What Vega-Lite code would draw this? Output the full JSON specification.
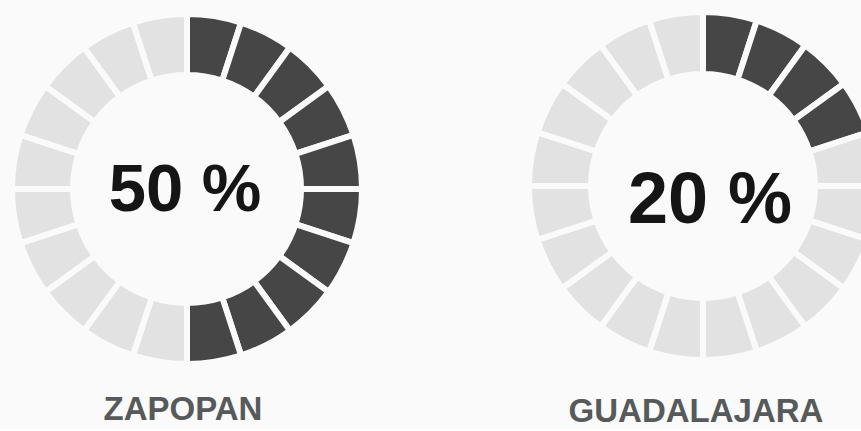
{
  "$schema": "https://vega.github.io/schema/vega-lite/v6.json",
  "background": "#fafafa",
  "padding": 0,
  "autosize": {"type": "pad"},
  "config": {"view": {"stroke": null}, "concat": {"spacing": 143}},
  "datasets": {
    "zap": [
      {"segmento": 1, "valor": 1, "estado": "lleno"},
      {"segmento": 2, "valor": 1, "estado": "lleno"},
      {"segmento": 3, "valor": 1, "estado": "lleno"},
      {"segmento": 4, "valor": 1, "estado": "lleno"},
      {"segmento": 5, "valor": 1, "estado": "lleno"},
      {"segmento": 6, "valor": 1, "estado": "lleno"},
      {"segmento": 7, "valor": 1, "estado": "lleno"},
      {"segmento": 8, "valor": 1, "estado": "lleno"},
      {"segmento": 9, "valor": 1, "estado": "lleno"},
      {"segmento": 10, "valor": 1, "estado": "lleno"},
      {"segmento": 11, "valor": 1, "estado": "vacio"},
      {"segmento": 12, "valor": 1, "estado": "vacio"},
      {"segmento": 13, "valor": 1, "estado": "vacio"},
      {"segmento": 14, "valor": 1, "estado": "vacio"},
      {"segmento": 15, "valor": 1, "estado": "vacio"},
      {"segmento": 16, "valor": 1, "estado": "vacio"},
      {"segmento": 17, "valor": 1, "estado": "vacio"},
      {"segmento": 18, "valor": 1, "estado": "vacio"},
      {"segmento": 19, "valor": 1, "estado": "vacio"},
      {"segmento": 20, "valor": 1, "estado": "vacio"}
    ],
    "gdl": [
      {"segmento": 1, "valor": 1, "estado": "lleno"},
      {"segmento": 2, "valor": 1, "estado": "lleno"},
      {"segmento": 3, "valor": 1, "estado": "lleno"},
      {"segmento": 4, "valor": 1, "estado": "lleno"},
      {"segmento": 5, "valor": 1, "estado": "vacio"},
      {"segmento": 6, "valor": 1, "estado": "vacio"},
      {"segmento": 7, "valor": 1, "estado": "vacio"},
      {"segmento": 8, "valor": 1, "estado": "vacio"},
      {"segmento": 9, "valor": 1, "estado": "vacio"},
      {"segmento": 10, "valor": 1, "estado": "vacio"},
      {"segmento": 11, "valor": 1, "estado": "vacio"},
      {"segmento": 12, "valor": 1, "estado": "vacio"},
      {"segmento": 13, "valor": 1, "estado": "vacio"},
      {"segmento": 14, "valor": 1, "estado": "vacio"},
      {"segmento": 15, "valor": 1, "estado": "vacio"},
      {"segmento": 16, "valor": 1, "estado": "vacio"},
      {"segmento": 17, "valor": 1, "estado": "vacio"},
      {"segmento": 18, "valor": 1, "estado": "vacio"},
      {"segmento": 19, "valor": 1, "estado": "vacio"},
      {"segmento": 20, "valor": 1, "estado": "vacio"}
    ]
  },
  "hconcat": [
    {
      "width": 368,
      "height": 366,
      "title": {"text": "ZAPOPAN", "orient": "bottom", "anchor": "middle", "offset": 18, "dx": -4, "fontSize": 33, "font": "Liberation Sans", "fontWeight": "bold", "color": "#565a5a"},
      "layer": [
        {
          "data": {"name": "zap"},
          "mark": {"type": "arc", "innerRadius": 114, "outerRadius": 175, "stroke": "#fafafa", "strokeWidth": 6},
          "encoding": {
            "theta": {"field": "valor", "type": "quantitative", "stack": true},
            "order": {"field": "segmento", "type": "quantitative"},
            "color": {"field": "estado", "type": "nominal", "scale": {"domain": ["lleno", "vacio"], "range": ["#464646", "#e2e2e2"]}, "legend": null}
          }
        },
        {
          "data": {"values": [{"texto": "50 %"}]},
          "mark": {"type": "text", "font": "Liberation Sans Narrow, Arial Narrow, Liberation Sans", "fontWeight": "bold", "fontSize": 67, "color": "#151515", "baseline": "alphabetic", "align": "center", "dy": 22, "dx": -2},
          "encoding": {"text": {"field": "texto", "type": "nominal"}}
        }
      ]
    },
    {
      "width": 342,
      "height": 360,
      "title": {"text": "GUADALAJARA", "orient": "bottom", "anchor": "middle", "offset": 24, "dx": -7, "fontSize": 33, "font": "Liberation Sans", "fontWeight": "bold", "color": "#565a5a"},
      "layer": [
        {
          "data": {"name": "gdl"},
          "mark": {"type": "arc", "innerRadius": 112, "outerRadius": 174, "stroke": "#fafafa", "strokeWidth": 6},
          "encoding": {
            "theta": {"field": "valor", "type": "quantitative", "stack": true},
            "order": {"field": "segmento", "type": "quantitative"},
            "color": {"field": "estado", "type": "nominal", "scale": {"domain": ["lleno", "vacio"], "range": ["#464646", "#e6e6e6"]}, "legend": null}
          }
        },
        {
          "data": {"values": [{"texto": "20 %"}]},
          "mark": {"type": "text", "font": "Liberation Sans Narrow, Arial Narrow, Liberation Sans", "fontWeight": "bold", "fontSize": 72, "color": "#151515", "baseline": "alphabetic", "align": "center", "dy": 37, "dx": 7},
          "encoding": {"text": {"field": "texto", "type": "nominal"}}
        }
      ]
    }
  ]
}
